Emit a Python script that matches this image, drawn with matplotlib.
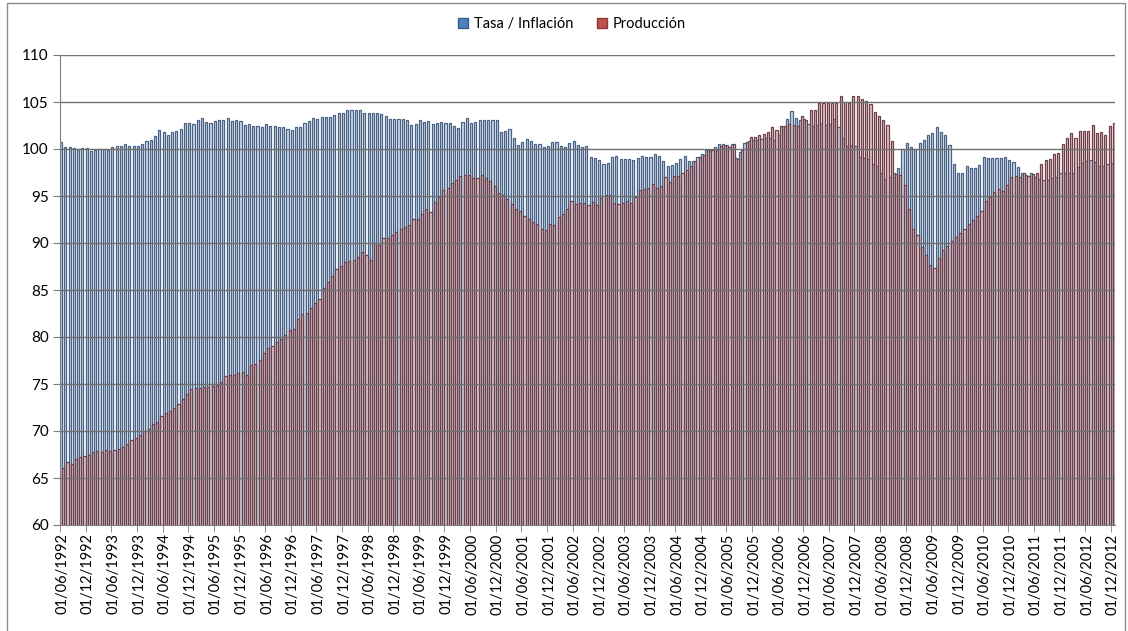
import numpy as np
import pandas as pd
import matplotlib
matplotlib.use("Agg")
import matplotlib.pyplot as plt
from matplotlib.patches import Rectangle, Patch

# Serie mensual 06/1992 - 12/2012
meses = pd.date_range("1992-06-01", "2012-12-01", freq="MS")

tasa = [
    100.7, 100.25, 100.25, 100.1, 100.0, 100.1, 100.1, 99.8, 99.9, 100.0,
    100.0, 99.9, 100.2, 100.3, 100.3, 100.5, 100.3, 100.3, 100.3, 100.5,
    100.9, 101.0, 101.4, 102.0, 101.8, 101.5, 101.8, 101.9, 102.1, 102.8,
    102.8, 102.7, 103.1, 103.3, 102.9, 102.8, 103.0, 103.1, 103.1, 103.3,
    103.0, 103.1, 103.0, 102.6, 102.7, 102.4, 102.4, 102.3, 102.7, 102.4,
    102.4, 102.3, 102.3, 102.1, 102.0, 102.3, 102.3, 102.8, 103.0, 103.3,
    103.2, 103.4, 103.4, 103.4, 103.6, 103.8, 103.8, 104.1, 104.1, 104.1,
    104.1, 103.8, 103.8, 103.8, 103.8, 103.7, 103.5, 103.2, 103.2, 103.2,
    103.2, 103.1, 102.6, 102.7, 103.1, 102.9, 103.0, 102.7, 102.8, 102.9,
    102.8, 102.8, 102.5, 102.2, 102.9, 103.3, 102.8, 102.9, 103.1, 103.1,
    103.1, 103.1, 103.1, 101.8, 101.9, 102.1, 101.2, 100.4, 100.7, 101.1,
    100.9, 100.5, 100.5, 100.2, 100.3, 100.7, 100.7, 100.3, 100.2, 100.6,
    100.8, 100.4, 100.2, 100.3, 99.1, 99.0, 98.8, 98.4, 98.5, 99.2,
    99.3, 98.9, 98.9, 98.9, 98.8, 99.0, 99.3, 99.2, 99.1, 99.5,
    99.3, 98.7, 98.2, 98.3, 98.5, 98.9, 99.3, 98.7, 98.7, 99.2,
    99.5, 99.9, 99.9, 100.2, 100.5, 100.5, 100.4, 100.5, 99.0, 99.7,
    100.6, 100.9, 101.0, 101.0, 101.1, 101.2, 101.2, 101.0, 101.5, 102.5,
    103.2, 104.0, 103.3, 103.1, 103.2, 102.7, 102.4, 102.6, 102.8, 102.6,
    102.7, 103.2, 102.3, 101.2, 100.3, 100.4, 100.3, 99.2, 99.0, 98.9,
    98.4, 98.2, 97.5, 96.8, 97.0, 97.4, 98.0, 100.0, 100.6, 100.2,
    100.0, 100.6, 101.0, 101.5, 101.7, 102.3, 101.8, 101.5, 100.4, 98.4,
    97.5, 97.5, 98.2, 98.0, 98.0, 98.3, 99.1, 99.0, 99.0, 99.0,
    99.0, 99.1, 98.8, 98.6, 98.1, 97.5, 97.2, 97.4, 97.0, 96.8,
    96.7, 96.7, 96.9, 97.0, 97.4, 97.4, 97.5, 97.5, 98.1, 98.5,
    98.7, 98.8, 98.6, 98.2, 98.2, 98.4, 98.5,
]

produccion = [
    66.1, 66.7, 66.5, 67.0, 67.2, 67.3, 67.5, 67.8, 67.9, 67.8,
    68.0, 67.9, 68.0, 68.1, 68.3, 68.6, 69.0, 69.3, 69.6, 70.0,
    70.2, 70.7, 71.0, 71.6, 71.9, 72.1, 72.5, 72.9, 73.4, 73.9,
    74.5, 74.6, 74.6, 74.7, 74.7, 74.8, 74.9, 75.2, 75.8, 76.0,
    76.0, 76.2, 76.3, 76.0, 77.0, 77.1, 77.6, 78.3, 78.8, 79.0,
    79.5, 79.8, 80.2, 80.7, 80.9, 81.9, 82.5, 82.6, 83.1, 83.6,
    84.0, 85.2, 85.9, 86.5, 87.2, 87.6, 88.0, 88.1, 88.2, 88.5,
    89.0, 88.7, 88.2, 90.0, 89.8, 90.5, 90.5, 90.8, 91.2, 91.5,
    91.7, 91.9, 92.6, 92.6, 93.1, 93.6, 93.3, 94.4, 94.9, 95.6,
    95.8, 96.4, 96.7, 97.1, 97.2, 97.2, 96.9, 96.9, 97.2, 96.9,
    96.6, 96.1, 95.3, 95.1, 94.7, 94.2, 93.6, 93.4, 92.9, 92.6,
    92.2, 92.0, 91.5, 91.4, 92.0, 91.9, 92.8, 93.1, 93.6, 94.5,
    94.2, 94.3, 94.3, 94.0, 94.4, 94.0, 94.8, 95.1, 95.1, 94.3,
    94.2, 94.3, 94.5, 94.3, 94.9, 95.6, 95.7, 95.8, 96.3, 95.8,
    96.1, 97.0, 96.5, 97.1, 97.1, 97.5, 97.8, 98.2, 98.7, 99.1,
    99.4, 99.9, 99.9, 99.9, 100.3, 100.4, 100.2, 100.5, 98.9, 99.9,
    100.7, 101.3, 101.3, 101.5, 101.6, 101.8, 102.3, 102.0, 102.4, 102.5,
    102.7, 102.6, 102.5, 103.5, 103.1, 104.2, 104.2, 104.9, 104.9, 104.9,
    104.9, 104.9, 105.6, 105.0, 104.9, 105.6, 105.6, 105.3, 105.1, 104.8,
    103.9, 103.5, 103.1, 102.6, 100.9, 97.3, 97.2, 96.2, 93.6, 91.5,
    90.9, 89.6, 88.7, 87.7, 87.3, 88.4, 89.3, 89.7, 90.2, 90.6,
    91.1, 91.5, 92.0, 92.5, 92.9, 93.4, 94.5, 94.9, 95.4, 95.7,
    95.5, 96.2, 97.0, 97.1, 97.0, 97.5, 97.1, 97.3, 97.5, 98.4,
    98.8, 98.9, 99.5, 99.6, 100.5, 101.2, 101.7, 101.2, 101.9, 101.9,
    101.9, 102.6, 101.7, 101.8, 101.5, 102.5, 102.8,
]

etiquetas = [d.strftime("%d/%m/%Y") for d in meses]

plt.rcParams["font.family"] = ["Lato", "DejaVu Sans"]

fig = plt.figure(figsize=(11.28, 6.31), dpi=100)
fig.patch.set_facecolor("white")
# borde del área del gráfico
fig.patches.append(Rectangle((7 / 1128, -0.01), (1125 - 7) / 1128, 1.005,
                             transform=fig.transFigure, fill=False,
                             edgecolor="#8c8c8c", linewidth=1.0))

ax = fig.add_axes([60 / 1128, 1 - 525 / 631, (1115 - 60) / 1128, (525 - 55) / 631])

x = np.arange(len(meses))
ax.bar(x - 0.25, tasa, width=0.5, color="#c9d8ec", edgecolor="#4a6384",
       linewidth=0.9, zorder=2)
ax.bar(x + 0.25, produccion, width=0.5, color="#e3c2c6", edgecolor="#6e4049",
       linewidth=0.9, zorder=2)

ax.set_ylim(60, 110)
ax.set_xlim(-0.5, len(meses) - 0.5)
ax.set_yticks(np.arange(60, 111, 5))
for y in np.arange(65, 111, 5):
    ax.axhline(y, color="#6f6f6f", linewidth=1.0, zorder=3)

ax.set_xticks(x[::6])
ax.set_xticklabels(etiquetas[::6], rotation=90, fontsize=10.5)
ax.set_xticks(x[::6] - 0.5, minor=True)
ax.tick_params(axis="x", which="major", length=0, pad=6)
ax.tick_params(axis="x", which="minor", length=5, color="#7f7f7f")
ax.tick_params(axis="y", length=5, color="#7f7f7f", labelsize=11, pad=3)

for s in ["top", "right"]:
    ax.spines[s].set_visible(False)
for s in ["left", "bottom"]:
    ax.spines[s].set_color("#7f7f7f")
    ax.spines[s].set_zorder(4)

handles = [Patch(facecolor="#4f81bd", edgecolor="#385d8a", label="Tasa / Inflación"),
           Patch(facecolor="#c0504d", edgecolor="#8c3836", label="Producción")]
fig.legend(handles=handles, loc="center", bbox_to_anchor=(0.507, 0.962), ncol=2,
           frameon=False, fontsize=10.5, handlelength=0.7, handleheight=0.7,
           handletextpad=0.4, columnspacing=1.6)

fig.savefig("out.png", dpi=100)
